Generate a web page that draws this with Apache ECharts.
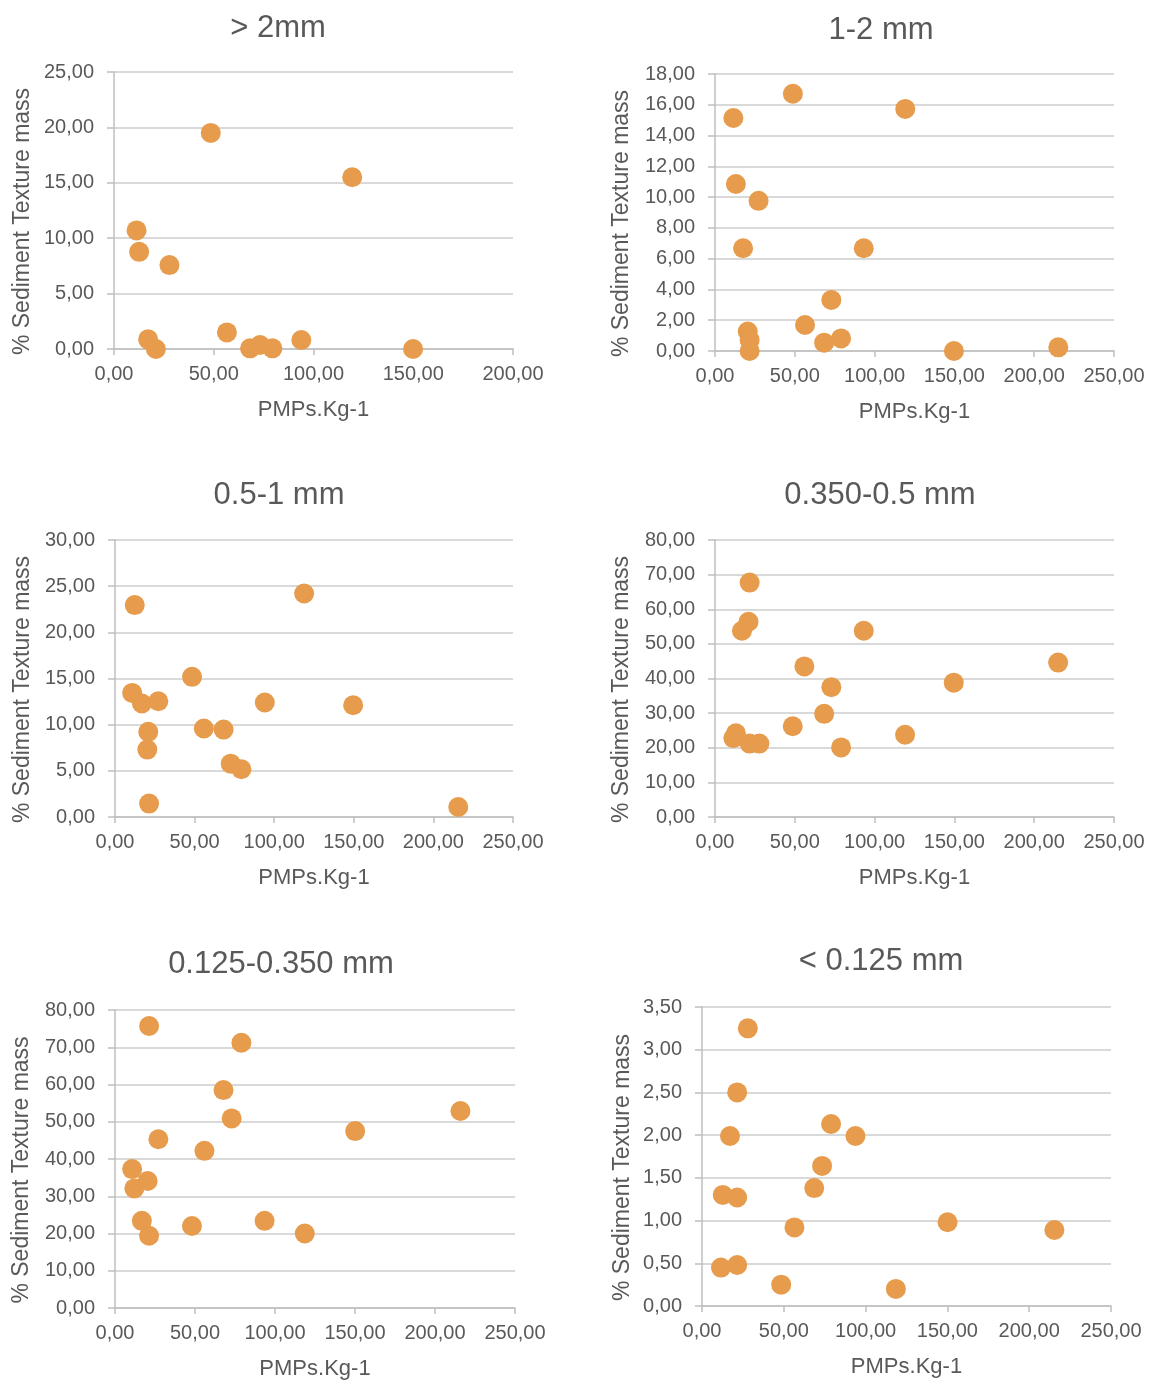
<!DOCTYPE html>
<html>
<head>
<meta charset="utf-8">
<script src="https://cdn.jsdelivr.net/npm/echarts@6/dist/echarts.min.js"></script>
<style>
  html, body { margin: 0; padding: 0; background: #ffffff; }
  #chart { width: 1153px; height: 1383px; }
</style>
</head>
<body>
<div id="chart"></div>
<script>
// Sediment texture fractions vs. microplastic concentration (PMPs per kg)
const panelTitles = ['> 2mm', '1-2 mm', '0.5-1 mm', '0.350-0.5 mm', '0.125-0.350 mm', '< 0.125 mm'];
const xAxisTitle = 'PMPs.Kg-1';
const yAxisTitle = '% Sediment Texture mass';

// > 2 mm
const pmpGt2  = [48.5, 119.4, 11.3, 12.6, 27.8, 17.1, 21.0, 56.6, 68.2, 73.2, 79.4, 93.9, 149.9];
const massGt2 = [19.5, 15.5, 10.7, 8.77, 7.57, 0.87, 0.0, 1.5, 0.06, 0.36, 0.06, 0.81, 0.0];

// 1-2 mm
const pmp1to2  = [48.8, 119.2, 11.5, 13.1, 27.3, 17.6, 93.2, 72.9, 56.4, 20.5, 21.7, 21.7, 68.4, 79.0, 149.7, 215.1];
const mass1to2 = [16.72, 15.73, 15.14, 10.85, 9.76, 6.68, 6.68, 3.32, 1.69, 1.26, 0.72, 0.0, 0.54, 0.82, 0.0, 0.24];

// 0.5-1 mm
const pmp05to1  = [12.4, 118.8, 10.8, 16.9, 27.2, 48.4, 20.9, 20.3, 21.4, 55.8, 68.2, 94.1, 149.6, 72.7, 79.4, 215.6];
const mass05to1 = [22.95, 24.2, 13.44, 12.29, 12.54, 15.18, 9.22, 7.3, 1.45, 9.58, 9.47, 12.4, 12.1, 5.78, 5.17, 1.08];

// 0.350-0.5 mm
const pmp035to05  = [21.7, 21.0, 16.9, 93.2, 56.0, 215.0, 72.9, 149.6, 68.4, 48.7, 119.1, 79.0, 11.5, 13.1, 21.7, 27.8];
const mass035to05 = [67.7, 56.4, 53.8, 53.8, 43.5, 44.6, 37.5, 38.8, 29.8, 26.2, 23.75, 20.1, 22.8, 24.2, 21.2, 21.2];

// 0.125-0.350 mm
const pmp0125to035  = [21.3, 79.0, 67.8, 72.9, 215.9, 150.1, 27.1, 55.9, 10.7, 20.4, 12.1, 16.8, 21.3, 48.1, 93.5, 118.6];
const mass0125to035 = [75.7, 71.2, 58.5, 50.9, 52.9, 47.5, 45.3, 42.2, 37.3, 34.1, 32.1, 23.4, 19.4, 22.0, 23.4, 20.0];

// < 0.125 mm
const pmpLt0125  = [28.0, 21.5, 17.1, 78.9, 93.8, 73.4, 68.6, 12.7, 21.5, 56.5, 150.1, 215.4, 11.6, 21.5, 48.4, 118.5];
const massLt0125 = [3.25, 2.5, 1.99, 2.13, 1.99, 1.64, 1.38, 1.30, 1.27, 0.92, 0.98, 0.89, 0.45, 0.48, 0.25, 0.2];

// axis ranges per panel: [xMax, xStep, yMax, yStep]
const xMaxes  = [200, 250, 250, 250, 250, 250];
const yMaxes  = [25, 18, 30, 80, 80, 3.5];
const ySteps  = [5, 2, 5, 10, 10, 0.5];
const xStep = 50;

const pmpSets  = [pmpGt2, pmp1to2, pmp05to1, pmp035to05, pmp0125to035, pmpLt0125];
const massSets = [massGt2, mass1to2, mass05to1, mass035to05, mass0125to035, massLt0125];

// panel placement
const gridBoxes = [
  { left: 114, top: 72,   width: 399, height: 277 },
  { left: 715, top: 74,   width: 399, height: 277 },
  { left: 115, top: 540,  width: 398, height: 277 },
  { left: 715, top: 540,  width: 399, height: 277 },
  { left: 115, top: 1010, width: 400, height: 298 },
  { left: 702, top: 1007, width: 409, height: 299 }
];
const titlePos = [
  { x: 273, y: 8 }, { x: 876, y: 10 }, { x: 274, y: 475 },
  { x: 875, y: 475 }, { x: 276, y: 944 }, { x: 876, y: 941 }
];
const yNameGaps = [80, 82, 81, 82, 82, 68];

const textGray = '#595959';
const axisGray = '#BFBFBF';
const gridGray = '#D9D9D9';
const dotColor = '#E69C4C';
const fontFamily = '"Liberation Sans", Arial, sans-serif';

const fmt = v => v.toFixed(2).replace('.', ',');

const option = {
  backgroundColor: '#ffffff',
  animation: false,
  title: panelTitles.map((t, i) => ({
    text: t,
    left: titlePos[i].x,
    top: titlePos[i].y,
    textAlign: 'center',
    textStyle: { color: textGray, fontSize: 31, fontWeight: 'normal', fontFamily }
  })),
  grid: gridBoxes.map(b => Object.assign({ containLabel: false }, b)),
  xAxis: gridBoxes.map((b, i) => ({
    type: 'value',
    gridIndex: i,
    min: 0,
    max: xMaxes[i],
    interval: xStep,
    name: xAxisTitle,
    nameLocation: 'middle',
    nameGap: 50,
    nameTextStyle: { color: textGray, fontSize: 22, fontFamily },
    axisLine: { show: true, onZero: false, lineStyle: { color: axisGray, width: 1.5 } },
    axisTick: { show: true, length: 6, lineStyle: { color: axisGray, width: 1.5 } },
    axisLabel: { color: textGray, fontSize: 20, fontFamily, margin: 15, formatter: fmt },
    splitLine: { show: false }
  })),
  yAxis: gridBoxes.map((b, i) => ({
    type: 'value',
    gridIndex: i,
    min: 0,
    max: yMaxes[i],
    interval: ySteps[i],
    name: yAxisTitle,
    nameLocation: 'middle',
    nameGap: yNameGaps[i],
    nameRotate: 90,
    nameTextStyle: { color: textGray, fontSize: 23, fontFamily, padding: [0, 22, 0, 0] },
    axisLine: { show: true, lineStyle: { color: axisGray, width: 1.5 } },
    axisTick: { show: true, length: 7, lineStyle: { color: axisGray, width: 1.5 } },
    axisLabel: { color: textGray, fontSize: 20, fontFamily, margin: 20, formatter: fmt },
    splitLine: { show: true, lineStyle: { color: gridGray, width: 2 } }
  })),
  series: pmpSets.map((xs, i) => ({
    type: 'scatter',
    xAxisIndex: i,
    yAxisIndex: i,
    symbol: 'circle',
    symbolSize: 20,
    itemStyle: { color: dotColor, opacity: 1 },
    data: xs.map((x, k) => [x, massSets[i][k]])
  }))
};

const chart = echarts.init(document.getElementById('chart'), null, { renderer: 'canvas' });
chart.setOption(option);
</script>
</body>
</html>
